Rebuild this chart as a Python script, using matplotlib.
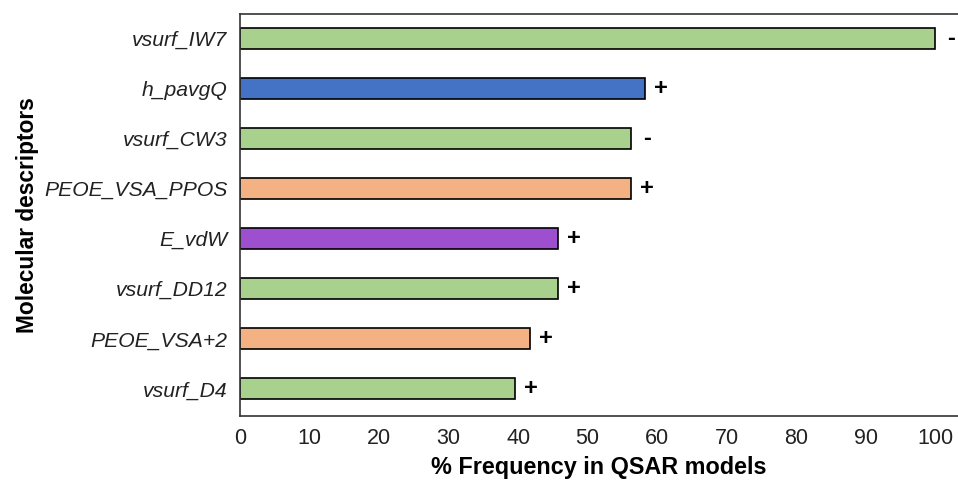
import numpy as np
import matplotlib
matplotlib.use("Agg")
import matplotlib.pyplot as plt

plt.rcParams['font.family'] = ['Liberation Sans', 'DejaVu Sans']

# Data (top to bottom as in the chart)
descriptors = ["vsurf_IW7", "h_pavgQ", "vsurf_CW3", "PEOE_VSA_PPOS",
               "E_vdW", "vsurf_DD12", "PEOE_VSA+2", "vsurf_D4"]
frequency = [100, 58.3, 56.3, 56.3, 45.8, 45.8, 41.7, 39.6]
signs = ["-", "+", "-", "+", "+", "+", "+", "+"]
colors = ["#a9d18e", "#4472c4", "#a9d18e", "#f4b183",
          "#9e4fd0", "#a9d18e", "#f4b183", "#a9d18e"]
xticks = list(range(0, 101, 10))

fig = plt.figure(figsize=(9.58, 4.84), dpi=100)
ax = fig.add_axes([0.2505, 0.1405, 0.749, 0.8305])

n = len(descriptors)
ypos = np.arange(n)[::-1]
ax.barh(ypos, frequency, height=0.42, color=colors, edgecolor="black", linewidth=1.2)

for y, v, s in zip(ypos, frequency, signs):
    ax.text(v + 2.3, y, s, ha="center", va="center", fontsize=17, fontweight="bold")

ax.set_xlim(0, 103.2)
ax.set_ylim(-0.54, n - 0.52)
ax.set_xticks(xticks)
ax.set_xticklabels([str(t) for t in xticks], fontsize=15.5, color="#222222")
ax.set_yticks(ypos)
ax.set_yticklabels(descriptors, fontsize=15.2, style="italic", color="#222222")
ax.tick_params(axis="x", length=0, pad=9)
ax.tick_params(axis="y", length=0, pad=9)

ax.spines["right"].set_visible(False)
for side in ["top", "left", "bottom"]:
    ax.spines[side].set_linewidth(1.2)
    ax.spines[side].set_color("#333333")

ax.set_xlabel("% Frequency in QSAR models", fontsize=16.8, fontweight="bold", labelpad=5)
ax.set_ylabel("Molecular descriptors", fontsize=16.4, fontweight="bold", labelpad=4)

fig.savefig("out.png", dpi=100)
